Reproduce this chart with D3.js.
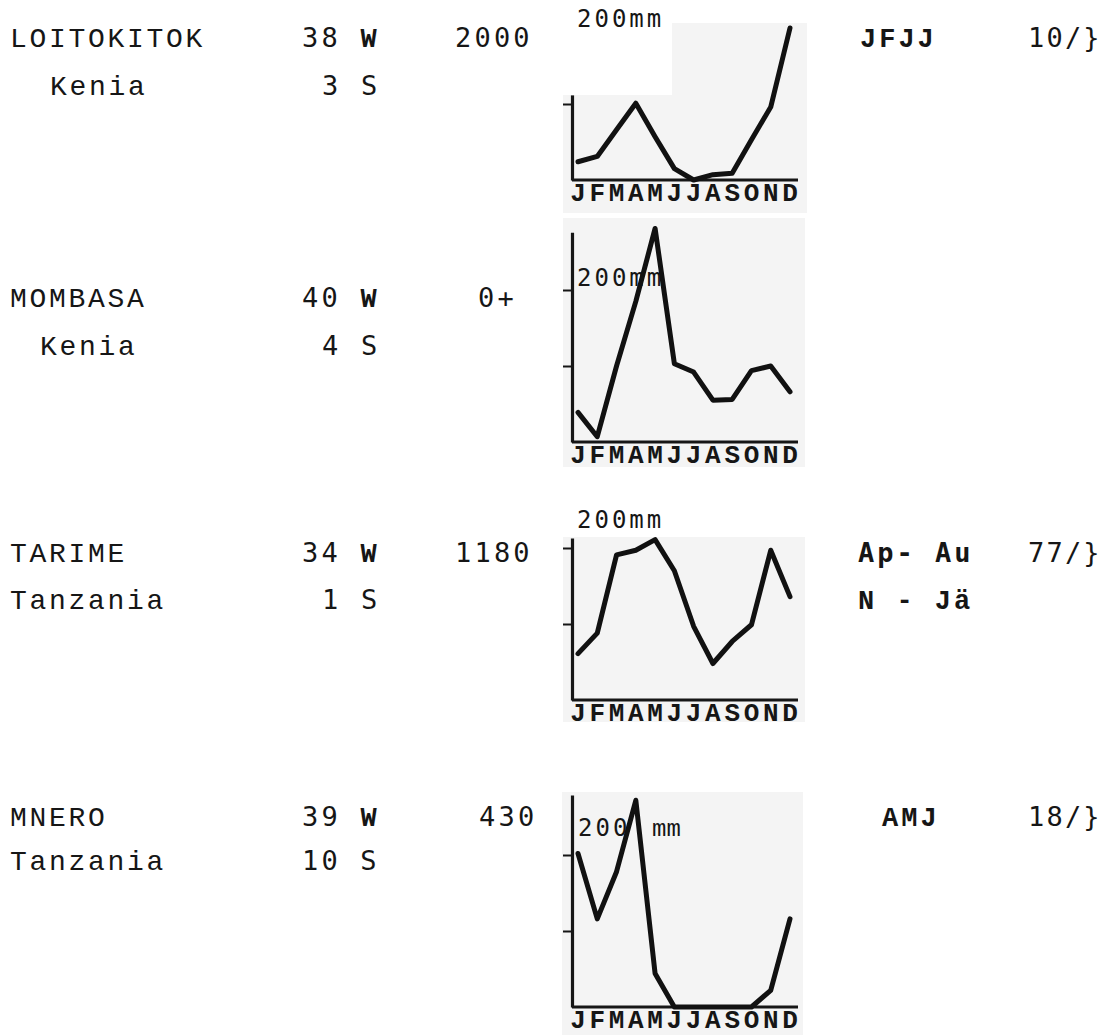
<!DOCTYPE html>
<html>
<head>
<meta charset="utf-8">
<script src="https://cdn.jsdelivr.net/npm/d3@7"></script>
<style>
  body { margin: 0; background: #fff; }
  svg { display: block; }
</style>
</head>
<body>
<div id="chart"></div>
<script>
const stations = ["LOITOKITOK", "MOMBASA", "TARIME", "MNERO"];
const countries = ["Kenia", "Kenia", "Tanzania", "Tanzania"];
const lonLabels = ["38 ", "40 ", "34 ", "39 "];
const latLabels = ["3 S", "4 S", "1 S", "10 S"];
const elevations = ["2000", "0+", "1180", "430"];
const seasons1 = ["JFJJ", "", "Ap- Au", "AMJ"];
const seasons2 = ["", "", "N - Jä", ""];
const ratios = ["10/}", "", "77/}", "18/}"];

const monthLetters = ["J", "F", "M", "A", "M", "J", "J", "A", "S", "O", "N", "D"];

// pluie mensuelle (mm)
const rainLoitokitok = [24, 31, 66, 101, 57, 15, 0, 7, 9, 53, 96, 200];
const rainMombasa = [39, 7, 100, 185, 281, 103, 92, 55, 56, 94, 100, 66];
const rainTarime = [61, 88, 191, 197, 211, 170, 97, 48, 77, 99, 197, 136];
const rainMnero = [202, 116, 178, 272, 44, 0, 0, 0, 0, 0, 22, 116];

const yTicks = [[100], [100, 200], [100, 200], [100, 200]];
const axisTops = [112, 276, 213, 279];

const rains = [rainLoitokitok, rainMombasa, rainTarime, rainMnero];

const width = 1104,
    height = 1035;

// positions de chaque ligne
const row1 = [47, 307, 562, 826];
const row2 = [95, 355, 609, 870];
const chartBase = [180, 442, 700, 1007];
const countryX = [50, 40, 10, 10];
const elevX = [455, 478, 455, 479];
const season1X = [860, 0, 858, 882];
const pxPerMm = 0.76;
const axisX = 572;

const serif = "'Liberation Mono', monospace";
const sans = "'DejaVu Sans Mono', monospace";
const ink = "#161616";

var svg = d3.select("#chart")
    .append("svg")
    .attr("width", width)
    .attr("height", height);

var xScale = d3.scalePoint()
    .domain(d3.range(12))
    .range([578, 790]);

// fonds gris des graphiques
const panels = [
    { x: 563, y: 23, w: 244, h: 190 },
    { x: 563, y: 218, w: 242, h: 249 },
    { x: 563, y: 537, w: 242, h: 185 },
    { x: 562, y: 792, w: 241, h: 243 }
];

svg.append("g")
    .selectAll("rect")
    .data(panels)
    .join("rect")
    .attr("x", d => d.x)
    .attr("y", d => d.y)
    .attr("width", d => d.w)
    .attr("height", d => d.h)
    .style("fill", "#f4f4f4");

// coin blanc au dessus du premier graphique
svg.append("rect")
    .attr("x", 540)
    .attr("y", 0)
    .attr("width", 132)
    .attr("height", 95)
    .style("fill", "#fff");

function addText(x, y, txt, font, size, ls, weight) {
    return svg.append("text")
        .attr("x", x)
        .attr("y", y)
        .style("font-family", font)
        .style("font-size", size + "px")
        .style("letter-spacing", ls + "px")
        .style("font-weight", weight || "normal")
        .style("fill", ink)
        .text(txt);
}

stations.forEach(function(name, i) {
    // textes a gauche
    addText(10, row1[i], name, serif, 28, 2.7);
    addText(countryX[i], row2[i], countries[i], serif, 28, 2.7);

    var lon = addText(302, row1[i], lonLabels[i], sans, 27, 3.2);
    lon.append("tspan")
        .style("font-family", serif)
        .style("font-weight", "bold")
        .text("W");
    addText(latLabels[i].length > 3 ? 302 : 322, row2[i], latLabels[i], sans, 27, 3.2);
    addText(elevX[i], row1[i], elevations[i], sans, 27, 3.2);

    if (seasons1[i] != "") {
        var f = i == 2 ? sans : serif;
        addText(season1X[i], row1[i], seasons1[i], f, 27, 3, "bold");
    }
    if (seasons2[i] != "") {
        addText(858, row2[i], seasons2[i], serif, 27, 3, "bold");
    }
    if (ratios[i] != "") {
        // le dernier caractere touche le bord droit
        addText(1028, row1[i], ratios[i], sans, 27, 2.2);
    }

    // graphique de pluie
    var base = chartBase[i];
    var yScale = d3.scaleLinear()
        .domain([0, axisTops[i]])
        .range([base, base - axisTops[i] * pxPerMm]);

    var g = svg.append("g");

    // etiquette 200mm
    if (i == 3) {
        g.append("text")
            .attr("x", 578).attr("y", yScale(200) - 19)
            .style("font-family", sans).style("font-size", "24px")
            .style("letter-spacing", "3px").style("fill", ink)
            .text("200");
        g.append("text")
            .attr("x", 652).attr("y", yScale(200) - 19)
            .style("font-family", serif).style("font-size", "24px")
            .style("fill", ink)
            .text("mm");
    } else {
        var ly = i == 0 ? base - 200 * pxPerMm - 1 : i == 1 ? yScale(200) - 4 : yScale(200) - 20;
        g.append("text")
            .attr("x", 577).attr("y", ly)
            .style("font-family", sans).style("font-size", "24px")
            .style("letter-spacing", "3px").style("fill", ink)
            .text("200mm");
    }

    // axe vertical
    g.append("g")
        .attr("transform", "translate(" + axisX + ",0)")
        .call(d3.axisLeft(yScale)
            .tickValues(yTicks[i])
            .tickSize(9)
            .tickSizeOuter(0)
            .tickFormat(""))
        .call(a => a.select(".domain").style("stroke", ink).style("stroke-width", 3.2))
        .call(a => a.selectAll(".tick line").style("stroke", ink).style("stroke-width", 2));

    // ligne de base
    g.append("line")
        .attr("x1", axisX)
        .attr("x2", xScale(11) + 8)
        .attr("y1", yScale(0))
        .attr("y2", yScale(0))
        .style("stroke", ink)
        .style("stroke-width", 3);

    // mois
    g.append("g")
        .selectAll("text")
        .data(monthLetters)
        .join("text")
        .attr("x", (d, k) => xScale(k))
        .attr("y", base + 21)
        .attr("text-anchor", "middle")
        .style("font-family", serif)
        .style("font-size", "26px")
        .style("font-weight", "bold")
        .style("fill", ink)
        .text(d => d);

    var line = d3.line()
        .x((d, k) => xScale(k))
        .y(d => yScale(d));

    g.append("path")
        .datum(rains[i])
        .attr("d", line)
        .style("fill", "none")
        .style("stroke", "#111")
        .style("stroke-width", 5)
        .style("stroke-linejoin", "round")
        .style("stroke-linecap", "round");
});
</script>
</body>
</html>
